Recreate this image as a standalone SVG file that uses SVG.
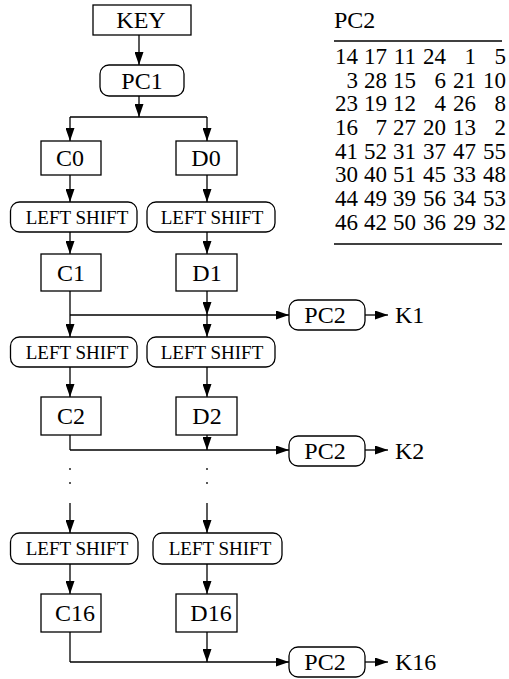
<svg xmlns="http://www.w3.org/2000/svg" width="509" height="679" viewBox="0 0 509 679" font-family="Liberation Serif, Times New Roman, serif">
  <style>
    text { fill: #000; }
    .lbl { font-size: 24px; text-anchor: middle; }
    .sh { font-size: 19px; text-anchor: middle; }
    .k { font-size: 24px; }
    .tbl { font-size: 23px; text-anchor: end; }
    .box { fill: #fff; stroke: #000; stroke-width: 1.3; }
    .ln { fill: none; stroke: #000; stroke-width: 1.3; }
  </style>
  <defs>
    <marker id="ah" viewBox="0 0 13 9" refX="13" refY="4.5" markerWidth="13" markerHeight="9" markerUnits="userSpaceOnUse" orient="auto">
      <path d="M0,0 L13,4.5 L0,9 Z" fill="#000"/>
    </marker>
  </defs>

  <rect width="509" height="679" fill="#fff"/>

  <!-- connectors -->
  <g id="connectors">
    <line class="ln" x1="139" y1="35" x2="139" y2="65" marker-end="url(#ah)"/>
    <line class="ln" x1="139" y1="96" x2="139" y2="117" marker-end="url(#ah)"/>
    <line class="ln" x1="70" y1="117" x2="207" y2="117"/>
    <line class="ln" x1="70" y1="117" x2="70" y2="141" marker-end="url(#ah)"/>
    <line class="ln" x1="207" y1="117" x2="207" y2="141" marker-end="url(#ah)"/>

    <line class="ln" x1="70" y1="175" x2="70" y2="202" marker-end="url(#ah)"/>
    <line class="ln" x1="207" y1="175" x2="207" y2="202" marker-end="url(#ah)"/>
    <line class="ln" x1="70" y1="232" x2="70" y2="254" marker-end="url(#ah)"/>
    <line class="ln" x1="207" y1="232" x2="207" y2="254" marker-end="url(#ah)"/>

    <!-- round 1 -->
    <line class="ln" x1="70" y1="291" x2="70" y2="315"/>
    <line class="ln" x1="207" y1="291" x2="207" y2="315" marker-end="url(#ah)"/>
    <line class="ln" x1="70" y1="315" x2="289" y2="315" marker-end="url(#ah)"/>
    <line class="ln" x1="365" y1="315" x2="388" y2="315" marker-end="url(#ah)"/>
    <line class="ln" x1="70" y1="315" x2="70" y2="337" marker-end="url(#ah)"/>
    <line class="ln" x1="207" y1="315" x2="207" y2="337" marker-end="url(#ah)"/>
    <line class="ln" x1="70" y1="367" x2="70" y2="397" marker-end="url(#ah)"/>
    <line class="ln" x1="207" y1="367" x2="207" y2="397" marker-end="url(#ah)"/>

    <!-- round 2 -->
    <line class="ln" x1="70" y1="435" x2="70" y2="450"/>
    <line class="ln" x1="207" y1="435" x2="207" y2="450" marker-end="url(#ah)"/>
    <line class="ln" x1="70" y1="450" x2="289" y2="450" marker-end="url(#ah)"/>
    <line class="ln" x1="365" y1="450" x2="388" y2="450" marker-end="url(#ah)"/>

    <!-- elided rounds -->
    <line class="ln" x1="70" y1="468" x2="70" y2="470"/>
    <line class="ln" x1="70" y1="482" x2="70" y2="484"/>
    <line class="ln" x1="207" y1="468" x2="207" y2="470"/>
    <line class="ln" x1="207" y1="482" x2="207" y2="484"/>
    <line class="ln" x1="70" y1="503" x2="70" y2="533" marker-end="url(#ah)"/>
    <line class="ln" x1="207" y1="503" x2="207" y2="533" marker-end="url(#ah)"/>
    <line class="ln" x1="70" y1="564" x2="70" y2="594" marker-end="url(#ah)"/>
    <line class="ln" x1="207" y1="564" x2="207" y2="594" marker-end="url(#ah)"/>

    <!-- round 16 -->
    <line class="ln" x1="70" y1="632" x2="70" y2="662"/>
    <line class="ln" x1="207" y1="632" x2="207" y2="662" marker-end="url(#ah)"/>
    <line class="ln" x1="70" y1="662" x2="289" y2="662" marker-end="url(#ah)"/>
    <line class="ln" x1="365" y1="662" x2="388" y2="662" marker-end="url(#ah)"/>
  </g>

  <!-- nodes -->
  <g id="key"><rect class="box" x="93" y="5" width="98" height="30"/><text class="lbl" font-family="Liberation Serif" x="141" y="28">KEY</text></g>
  <g id="pc1"><rect class="box" x="100" y="65" width="84" height="31" rx="9"/><text class="lbl" font-family="Liberation Serif" x="142" y="88.5">PC1</text></g>

  <g id="c0"><rect class="box" x="41" y="141" width="60" height="34"/><text class="lbl" font-family="Liberation Serif" x="70" y="166">C0</text></g>
  <g id="d0"><rect class="box" x="176" y="141" width="61" height="34"/><text class="lbl" font-family="Liberation Serif" x="206" y="166">D0</text></g>

  <g id="ls-c1"><rect class="box" x="10.5" y="202" width="126.5" height="30" rx="9"/><text class="sh" font-family="Liberation Serif" x="77" y="223.5">LEFT SHIFT</text></g>
  <g id="ls-d1"><rect class="box" x="147" y="202" width="128" height="30" rx="9"/><text class="sh" font-family="Liberation Serif" x="212" y="223.5">LEFT SHIFT</text></g>

  <g id="c1"><rect class="box" x="41" y="254" width="60" height="37"/><text class="lbl" font-family="Liberation Serif" x="71" y="281">C1</text></g>
  <g id="d1"><rect class="box" x="176" y="254" width="61" height="37"/><text class="lbl" font-family="Liberation Serif" x="207" y="281">D1</text></g>

  <g id="pc2-1"><rect class="box" x="289" y="300" width="76" height="30" rx="9"/><text class="lbl" font-family="Liberation Serif" x="325" y="323">PC2</text></g>
  <g id="k1"><text class="k" font-family="Liberation Serif" x="395" y="323">K1</text></g>

  <g id="ls-c2"><rect class="box" x="10.5" y="337" width="126.5" height="30" rx="9"/><text class="sh" font-family="Liberation Serif" x="77" y="358.5">LEFT SHIFT</text></g>
  <g id="ls-d2"><rect class="box" x="147" y="337" width="128" height="30" rx="9"/><text class="sh" font-family="Liberation Serif" x="212" y="358.5">LEFT SHIFT</text></g>

  <g id="c2"><rect class="box" x="41" y="397" width="60" height="38"/><text class="lbl" font-family="Liberation Serif" x="71" y="424">C2</text></g>
  <g id="d2"><rect class="box" x="176" y="397" width="61" height="38"/><text class="lbl" font-family="Liberation Serif" x="207" y="424">D2</text></g>

  <g id="pc2-2"><rect class="box" x="289" y="436" width="76" height="30" rx="9"/><text class="lbl" font-family="Liberation Serif" x="325" y="459">PC2</text></g>
  <g id="k2"><text class="k" font-family="Liberation Serif" x="395" y="459">K2</text></g>

  <g id="ls-c16"><rect class="box" x="10.5" y="533" width="127.5" height="31" rx="9"/><text class="sh" font-family="Liberation Serif" x="77" y="555">LEFT SHIFT</text></g>
  <g id="ls-d16"><rect class="box" x="153" y="533" width="129" height="31" rx="9"/><text class="sh" font-family="Liberation Serif" x="220" y="555">LEFT SHIFT</text></g>

  <g id="c16"><rect class="box" x="41" y="594" width="60" height="38"/><text class="lbl" font-family="Liberation Serif" x="75" y="621">C16</text></g>
  <g id="d16"><rect class="box" x="176" y="594" width="61" height="38"/><text class="lbl" font-family="Liberation Serif" x="211" y="621">D16</text></g>

  <g id="pc2-16"><rect class="box" x="289" y="647" width="76" height="30" rx="9"/><text class="lbl" font-family="Liberation Serif" x="325" y="670">PC2</text></g>
  <g id="k16"><text class="k" font-family="Liberation Serif" x="395" y="670">K16</text></g>

  <!-- PC2 permutation table -->
  <g id="pc2-table" font-family="Liberation Serif">
    <text class="k" x="334" y="28">PC2</text>
    <line class="ln" x1="334" y1="41" x2="502" y2="41"/>
    <text class="tbl" y="64"><tspan x="358">14</tspan><tspan x="387">17</tspan><tspan x="416">11</tspan><tspan x="446">24</tspan><tspan x="476">1</tspan><tspan x="506">5</tspan></text>
    <text class="tbl" y="87.7"><tspan x="358">3</tspan><tspan x="387">28</tspan><tspan x="416">15</tspan><tspan x="446">6</tspan><tspan x="476">21</tspan><tspan x="506">10</tspan></text>
    <text class="tbl" y="111.3"><tspan x="358">23</tspan><tspan x="387">19</tspan><tspan x="416">12</tspan><tspan x="446">4</tspan><tspan x="476">26</tspan><tspan x="506">8</tspan></text>
    <text class="tbl" y="135"><tspan x="358">16</tspan><tspan x="387">7</tspan><tspan x="416">27</tspan><tspan x="446">20</tspan><tspan x="476">13</tspan><tspan x="506">2</tspan></text>
    <text class="tbl" y="158.7"><tspan x="358">41</tspan><tspan x="387">52</tspan><tspan x="416">31</tspan><tspan x="446">37</tspan><tspan x="476">47</tspan><tspan x="506">55</tspan></text>
    <text class="tbl" y="182.3"><tspan x="358">30</tspan><tspan x="387">40</tspan><tspan x="416">51</tspan><tspan x="446">45</tspan><tspan x="476">33</tspan><tspan x="506">48</tspan></text>
    <text class="tbl" y="206"><tspan x="358">44</tspan><tspan x="387">49</tspan><tspan x="416">39</tspan><tspan x="446">56</tspan><tspan x="476">34</tspan><tspan x="506">53</tspan></text>
    <text class="tbl" y="229.7"><tspan x="358">46</tspan><tspan x="387">42</tspan><tspan x="416">50</tspan><tspan x="446">36</tspan><tspan x="476">29</tspan><tspan x="506">32</tspan></text>
    <line class="ln" x1="334" y1="244" x2="502" y2="244"/>
  </g>
</svg>
